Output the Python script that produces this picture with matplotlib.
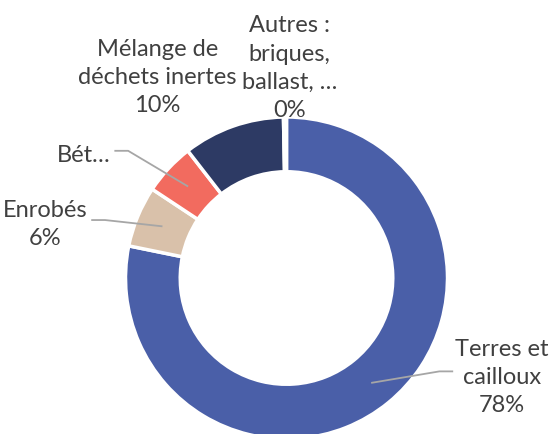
import matplotlib

matplotlib.use("Agg")
import matplotlib.pyplot as plt
import numpy as np

categories = ["Terres et\ncailloux", "Enrobés", "Bét…", "Mélange de\ndéchets inertes", "Autres :\nbriques,\nballast, …"]
shares = [78.2, 6.1, 5.2, 10.2, 0.3]
shown_pct = ["78%", "6%", None, "10%", "0%"]
colors = ["#4a5fa8", "#d9c1aa", "#f26b5f", "#2d3a64", "#c9a47f"]

# label centres (data units, radius 1 = outer ring) and whether a leader is drawn
label_pos = [(1.34, -0.61), (-1.50, 0.34), (-1.26, 0.77), (-0.80, 1.25), (0.02, 1.31)]
leader = [True, True, True, False, False]

W, H = 549, 435
R_PX = 161
CX, CY = 286.5, 279

fig = plt.figure(figsize=(W / 100, H / 100), dpi=100)
ax = fig.add_axes([(CX - R_PX) / W, (H - CY - R_PX) / H, 2 * R_PX / W, 2 * R_PX / H])

wedges, _ = ax.pie(
    shares,
    colors=colors,
    startangle=90,
    counterclock=False,
    radius=1,
    wedgeprops=dict(width=0.34, edgecolor="white", linewidth=2.5),
)
ax.set_xlim(-1, 1)
ax.set_ylim(-1, 1)
ax.set_aspect("equal")
ax.axis("off")
for w in wedges:
    w.set_clip_on(False)

text_kw = dict(fontsize=17, color="#404040", family="Lato", ha="center", va="center",
               linespacing=1.42)

for w, cat, pct, pos, has_leader in zip(wedges, categories, shown_pct, label_pos, leader):
    txt = cat if pct is None else f"{cat}\n{pct}"
    t = ax.text(pos[0], pos[1], txt, clip_on=False, **text_kw)
    if has_leader:
        mid = np.deg2rad((w.theta1 + w.theta2) / 2)
        end = (0.84 * np.cos(mid), 0.84 * np.sin(mid))
        fig.canvas.draw()
        bb = t.get_window_extent().transformed(ax.transData.inverted())
        if pos[0] > 0:
            x0 = bb.x0 - 0.02
            x1 = x0 - 0.08
            y0 = pos[1] + 0.03
        else:
            x0 = bb.x1 + 0.03
            x1 = x0 + 0.08
            y0 = pos[1] + 0.02
        ax.plot([x0, x1, end[0]], [y0, y0, end[1]], color="#a6a6a6", lw=1.3,
                clip_on=False, zorder=5)

fig.savefig("out.png", dpi=100)
